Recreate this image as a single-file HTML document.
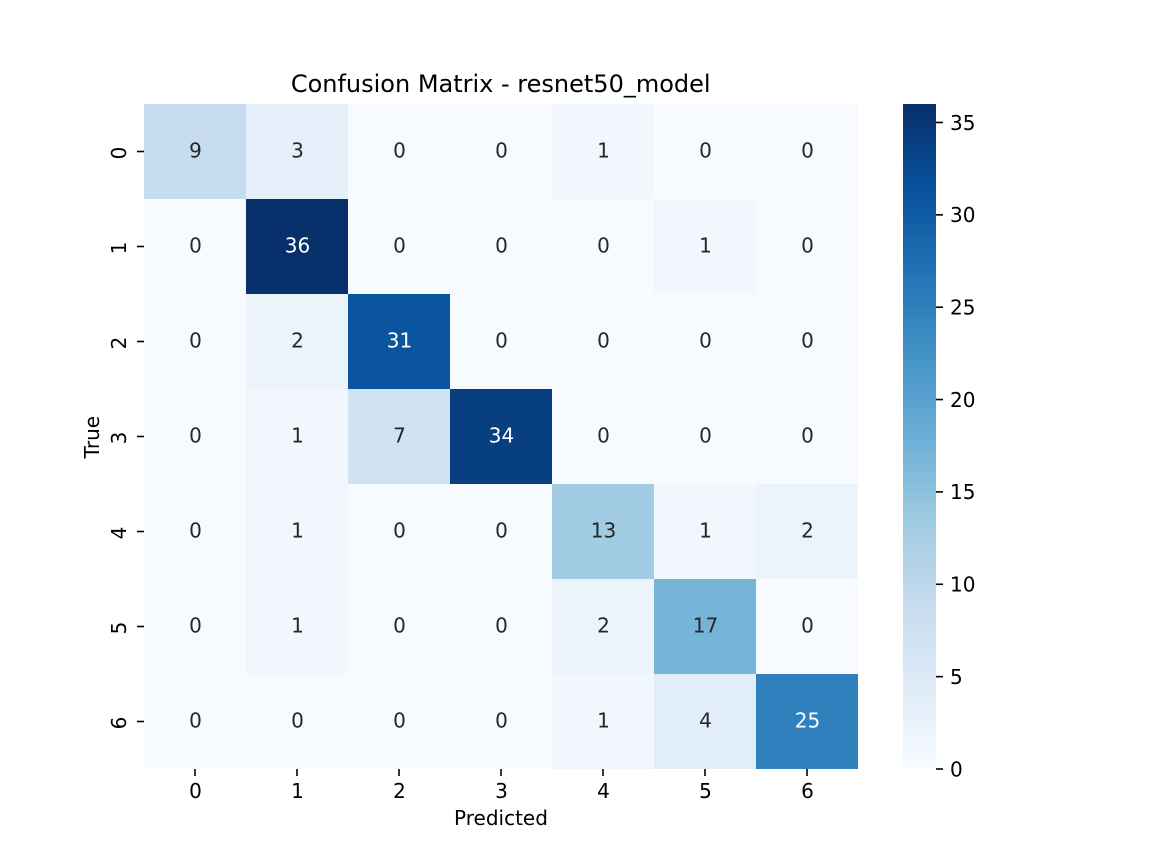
<!DOCTYPE html>
<html lang="en">
<head>
<meta charset="utf-8">
<title>Confusion Matrix - resnet50_model</title>
<style>
html,body{margin:0;padding:0;background:#fff;}
svg{display:block;}
text{font-family:"DejaVu Sans","Liberation Sans",sans-serif;}
</style>
</head>
<body>
<svg id="chart" xmlns="http://www.w3.org/2000/svg" width="1152" height="864" viewBox="0 0 1152 864">
  <defs>
    <linearGradient id="cbar-gradient" x1="0" y1="1" x2="0" y2="0">
      <stop offset="0" stop-color="#f7fbff"/>
      <stop offset="0.125" stop-color="#deebf7"/>
      <stop offset="0.25" stop-color="#c6dbef"/>
      <stop offset="0.375" stop-color="#9ecae1"/>
      <stop offset="0.5" stop-color="#6baed6"/>
      <stop offset="0.625" stop-color="#4292c6"/>
      <stop offset="0.75" stop-color="#2171b5"/>
      <stop offset="0.875" stop-color="#08519c"/>
      <stop offset="1" stop-color="#08306b"/>
    </linearGradient>
  </defs>
  <rect x="0" y="0" width="1152" height="864" fill="#ffffff"/>
  <g id="cells"></g>
  <g id="annotations"></g>
  <g id="x-axis"></g>
  <g id="y-axis"></g>
  <rect x="903" y="104" width="33" height="665" fill="url(#cbar-gradient)"/>
  <g id="cbar-axis"></g>
  <text x="500.7" y="92" font-size="24" text-anchor="middle" fill="#000">Confusion Matrix - resnet50_model</text>
  <text x="501" y="825" font-size="20" text-anchor="middle" fill="#000">Predicted</text>
  <text transform="translate(99 437.2) rotate(-90)" font-size="20" text-anchor="middle" fill="#000">True</text>
</svg>
<script>
const predictedLabels = ['0', '1', '2', '3', '4', '5', '6'];
const trueLabels = ['0', '1', '2', '3', '4', '5', '6'];
const row0 = [9, 3, 0, 0, 1, 0, 0];
const row1 = [0, 36, 0, 0, 0, 1, 0];
const row2 = [0, 2, 31, 0, 0, 0, 0];
const row3 = [0, 1, 7, 34, 0, 0, 0];
const row4 = [0, 1, 0, 0, 13, 1, 2];
const row5 = [0, 1, 0, 0, 2, 17, 0];
const row6 = [0, 0, 0, 0, 1, 4, 25];
const matrix = [row0, row1, row2, row3, row4, row5, row6];
const colorbarTicks = [0, 5, 10, 15, 20, 25, 30, 35];

const NS = 'http://www.w3.org/2000/svg';
const plot = { left: 144, right: 858, top: 104, bottom: 769 };
const bar = { left: 903, right: 936, top: 104, bottom: 769 };
const blues = [[247,251,255],[222,235,247],[198,219,239],[158,202,225],[107,174,214],[66,146,198],[33,113,181],[8,81,156],[8,48,107]];
const digitHalf = 7.3;
const annotationHalf = 6.2;
const textNudgeX = 0.5;
const yLabelNudge = 1.5;

const allValues = matrix.flat();
const vMin = Math.min(...allValues);
const vMax = Math.max(...allValues);

function xScale(i) { return plot.left + (plot.right - plot.left) * i / predictedLabels.length; }
function yScale(i) { return plot.top + (plot.bottom - plot.top) * i / trueLabels.length; }
function cbarScale(v) { return bar.bottom - (bar.bottom - bar.top) * (v - vMin) / (vMax - vMin); }

function colorFor(v) {
  const t = (v - vMin) / (vMax - vMin) * (blues.length - 1);
  const i = Math.min(Math.floor(t), blues.length - 2);
  const f = t - i;
  return blues[i].map((c, k) => Math.round(c + (blues[i + 1][k] - c) * f));
}
function luminance(rgb) {
  const l = rgb.map(c => {
    const s = c / 255;
    return s <= 0.03928 ? s / 12.92 : Math.pow((s + 0.055) / 1.055, 2.4);
  });
  return 0.2126 * l[0] + 0.7152 * l[1] + 0.0722 * l[2];
}
function make(tag, attrs, parent, content) {
  const el = document.createElementNS(NS, tag);
  Object.keys(attrs).forEach(k => el.setAttribute(k, attrs[k]));
  if (content !== undefined) el.textContent = content;
  parent.appendChild(el);
  return el;
}

const cellsGroup = document.getElementById('cells');
const annGroup = document.getElementById('annotations');
const xGroup = document.getElementById('x-axis');
const yGroup = document.getElementById('y-axis');
const cbarGroup = document.getElementById('cbar-axis');

matrix.forEach((row, r) => {
  row.forEach((value, c) => {
    const rgb = colorFor(value);
    const x0 = Math.round(xScale(c));
    const x1 = Math.round(xScale(c + 1));
    const y0 = Math.round(yScale(r));
    const y1 = Math.round(yScale(r + 1));
    const cell = make('rect', { x: x0, y: y0, width: x1 - x0, height: y1 - y0, fill: 'rgb(' + rgb.join(',') + ')', 'shape-rendering': 'crispEdges' }, cellsGroup);
    
    
    const label = make('text', { x: xScale(c + 0.5) + textNudgeX, y: yScale(r + 0.5) + annotationHalf, 'font-size': 20, 'text-anchor': 'middle', fill: luminance(rgb) < 0.408 ? '#ffffff' : '#262626' }, annGroup, String(value));
    
    
  });
});

predictedLabels.forEach((name, i) => {
  const x = xScale(i + 0.5);
  const tick = make('line', { x1: x, x2: x, y1: plot.bottom, y2: plot.bottom + 7, stroke: '#000', 'stroke-width': 1.6 }, xGroup);
  
  
  const label = make('text', { x: x + textNudgeX, y: 798, 'font-size': 20, 'text-anchor': 'middle', fill: '#000' }, xGroup, name);
  
  
});

trueLabels.forEach((name, i) => {
  const y = yScale(i + 0.5);
  const tick = make('line', { x1: plot.left - 7, x2: plot.left, y1: y, y2: y, stroke: '#000', 'stroke-width': 1.6 }, yGroup);
  
  
  const label = make('text', { transform: 'translate(126 ' + (y + yLabelNudge) + ') rotate(-90)', 'font-size': 20, 'text-anchor': 'middle', fill: '#000' }, yGroup, name);
  
  
});

colorbarTicks.forEach(v => {
  const y = cbarScale(v);
  const tick = make('line', { x1: bar.right, x2: bar.right + 7, y1: y, y2: y, stroke: '#000', 'stroke-width': 1.6 }, cbarGroup);
  
  
  const label = make('text', { x: bar.right + 14, y: y + digitHalf, 'font-size': 20, fill: '#000' }, cbarGroup, String(v));
  
  
});
</script>
</body>
</html>
